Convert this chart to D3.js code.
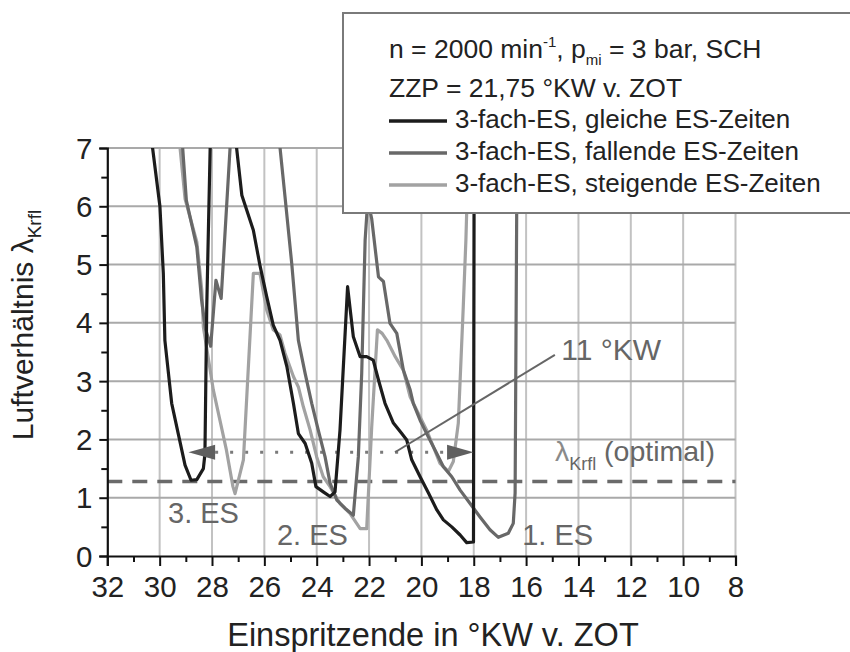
<!DOCTYPE html>
<html>
<head>
<meta charset="UTF-8" />
<title>Luftverhältnis über Einspritzende</title>
<script src="https://d3js.org/d3.v7.min.js"></script>
<style>
  body { margin: 0; background: #fff; }
  svg { font-family: "Liberation Sans", Arial, sans-serif; }
</style>
</head>
<body>
<div id="main"></div>
<script type="text/javascript">

// ---- data ----
const xMajor = [32, 30, 28, 26, 24, 22, 20, 18, 16, 14, 12, 10, 8]
const xMinor = [31, 29, 27, 25, 23, 21, 19, 17, 15, 13, 11, 9]
const yMajor = [0, 1, 2, 3, 4, 5, 6, 7]
const yMinor = [0.5, 1.5, 2.5, 3.5, 4.5, 5.5, 6.5]

// [°KW v. ZOT, lambda]; values > 7 leave the plot at the top
const gleiche = [
  [30.4, 8.0], [30.27, 7.0], [29.99, 6.0], [29.86, 4.85], [29.8, 3.7], [29.54, 2.62],
  [29.29, 2.1], [29.03, 1.56], [28.8, 1.3], [28.58, 1.31], [28.33, 1.5], [28.27, 1.75],
  [28.2, 4.28], [28.07, 7.0], [28.03, 8.5], [27.2, 8.0], [27.06, 7.0], [26.86, 6.19],
  [26.42, 5.59], [26.17, 4.99], [25.91, 4.45], [25.66, 3.96], [25.4, 3.7], [25.14, 3.25],
  [24.89, 2.62], [24.7, 2.1], [24.44, 1.93], [24.19, 1.59], [24.03, 1.19], [23.75, 1.1],
  [23.49, 1.02], [23.3, 1.1], [23.11, 2.16], [22.82, 4.62], [22.6, 3.76], [22.34, 3.42],
  [22.09, 3.42], [21.84, 3.36], [21.64, 3.02], [21.39, 2.62], [21.07, 2.28], [20.75, 2.1],
  [20.56, 1.99], [20.37, 1.65], [20.05, 1.36], [19.73, 1.08], [19.41, 0.79], [19.16, 0.62],
  [18.84, 0.5], [18.52, 0.36], [18.27, 0.23], [18.01, 0.24], [17.98, 8.0]
]
const fallende = [
  [29.25, 8.0], [29.12, 7.0], [28.98, 6.1], [28.58, 5.3], [28.4, 4.4], [28.25, 3.9],
  [28.05, 3.6], [27.85, 4.73], [27.65, 4.42], [27.31, 7.0], [27.2, 8.0], [25.55, 8.0],
  [25.4, 7.0], [25.21, 6.16], [24.95, 5.0], [24.7, 3.7], [24.44, 3.13], [24.19, 2.62],
  [23.94, 2.16], [23.68, 1.7], [23.49, 1.25], [23.23, 0.96], [22.92, 0.82], [22.6, 0.7],
  [22.41, 1.7], [22.28, 3.14], [22.15, 5.42], [22.05, 6.1], [21.9, 5.79], [21.64, 4.79],
  [21.45, 4.71], [21.2, 3.99], [20.94, 3.82], [20.69, 3.19], [20.43, 2.85], [20.31, 2.62],
  [20.05, 2.33], [19.8, 2.1], [19.48, 1.82], [19.16, 1.53], [18.84, 1.36], [18.52, 1.13],
  [18.14, 0.9], [17.76, 0.67], [17.38, 0.45], [17.06, 0.32], [16.68, 0.39], [16.49, 0.56],
  [16.42, 1.08], [16.36, 5.82], [16.33, 8.0]
]
const steigende = [
  [29.35, 8.0], [29.22, 7.0], [29.03, 6.13], [28.58, 5.39], [28.39, 4.56], [28.33, 3.93],
  [27.95, 2.85], [27.45, 1.82], [27.2, 1.19], [27.12, 1.07], [26.8, 1.65], [26.42, 4.85],
  [26.17, 4.85], [25.91, 4.22], [25.66, 3.88], [25.4, 3.79], [25.21, 3.48], [24.89, 3.08],
  [24.7, 2.9], [24.51, 2.56], [24.25, 2.16], [24.0, 1.7], [23.75, 1.36], [23.49, 1.19],
  [23.11, 0.9], [22.73, 0.73], [22.34, 0.47], [22.09, 0.47], [21.9, 2.2], [21.68, 3.88],
  [21.5, 3.82], [21.32, 3.7], [21.0, 3.42], [20.69, 3.19], [20.43, 2.73], [20.12, 2.45],
  [19.8, 2.16], [19.54, 1.87], [19.29, 1.59], [18.97, 1.45], [18.78, 1.62], [18.59, 2.28],
  [18.4, 4.28], [18.3, 5.42], [18.2, 7.0], [18.15, 8.0]
]

const seriesNames = ['3-fach-ES, gleiche ES-Zeiten', '3-fach-ES, fallende ES-Zeiten', '3-fach-ES, steigende ES-Zeiten']
const seriesColors = ['#1c1c1c', '#686868', '#a2a2a2']

const lambdaOpt = 1.28          // dashed line
const arrowLevel = 1.78         // dotted line with arrows
const arrowLeft = [27.88, 28.9] // base, tip
const arrowRight = [19.02, 18.01]

const width = 850
const height = 652
const plot = { left: 107.3, right: 735.5, top: 148, bottom: 556 }

const x = d3.scaleLinear().domain([32, 8]).range([plot.left, plot.right])
const y = d3.scaleLinear().domain([0, 7]).range([plot.bottom, plot.top])

const svg = d3.select('#main').append('svg')
  .attr('width', width)
  .attr('height', height)

svg.append('defs').append('clipPath').attr('id', 'clip')
  .append('rect')
  .attr('x', plot.left).attr('y', plot.top)
  .attr('width', plot.right - plot.left).attr('height', plot.bottom - plot.top)

// grid
svg.append('g').selectAll('line').data(xMajor.slice(1))
  .join('line')
  .attr('x1', d => x(d)).attr('x2', d => x(d))
  .attr('y1', y(0)).attr('y2', y(7))
  .attr('stroke', '#c2c2c2').attr('stroke-width', 2)

svg.append('g').selectAll('line').data(yMajor.slice(1))
  .join('line')
  .attr('x1', x(32)).attr('x2', x(8))
  .attr('y1', d => y(d)).attr('y2', d => y(d))
  .attr('stroke', '#a9a9a9').attr('stroke-width', 2)

// reference lines
svg.append('line')
  .attr('x1', x(32)).attr('x2', x(8))
  .attr('y1', y(lambdaOpt)).attr('y2', y(lambdaOpt))
  .attr('stroke', '#6a6a6a').attr('stroke-width', 3.5)
  .attr('stroke-dasharray', '15 10')

svg.append('line')
  .attr('x1', x(arrowLeft[0])).attr('x2', x(arrowRight[0]))
  .attr('y1', y(arrowLevel)).attr('y2', y(arrowLevel))
  .attr('stroke', '#7a7a7a').attr('stroke-width', 3)
  .attr('stroke-dasharray', '3 12')

// curves
const line = d3.line().x(d => x(d[0])).y(d => y(d[1]))
const curves = svg.append('g').attr('clip-path', 'url(#clip)')
const allSeries = [steigende, fallende, gleiche]
const drawColors = [seriesColors[2], seriesColors[1], seriesColors[0]]
allSeries.forEach((s, i) => {
  curves.append('path')
    .datum(s)
    .attr('d', line)
    .attr('fill', 'none')
    .attr('stroke', drawColors[i])
    .attr('stroke-width', 3.2)
    .attr('stroke-linejoin', 'round')
})

// arrows
function arrow(base, tip) {
  const bx = x(base), tx = x(tip), yy = y(arrowLevel)
  svg.append('path')
    .attr('d', `M${bx},${yy - 7.5}L${tx},${yy}L${bx},${yy + 7.5}Z`)
    .attr('fill', '#5f5f5f')
}
arrow(arrowLeft[0], arrowLeft[1])
arrow(arrowRight[0], arrowRight[1])

// annotation: 11 °KW
svg.append('line')
  .attr('x1', x(21.01)).attr('y1', y(arrowLevel))
  .attr('x2', x(14.9)).attr('y2', y(3.45))
  .attr('stroke', '#666').attr('stroke-width', 2)

const annot = svg.append('g').attr('fill', '#666')
annot.append('text').attr('x', x(14.66)).attr('y', y(3.36))
  .attr('font-size', 30).text('11 °KW')

const opt = annot.append('text').attr('x', x(14.9)).attr('y', y(1.63)).attr('font-size', 28.5)
opt.append('tspan').attr('fill', '#8a8a8a').text('λ')
opt.append('tspan').attr('font-size', 18).attr('dy', 9).text('Krfl')
opt.append('tspan').attr('dy', -9).text(' (optimal)')

annot.selectAll('text.es').data([[29.68, 0.57, '3. ES'], [25.52, 0.19, '2. ES'], [16.15, 0.19, '1. ES']])
  .join('text')
  .attr('class', 'es')
  .attr('x', d => x(d[0])).attr('y', d => y(d[1]))
  .attr('font-size', 29)
  .text(d => d[2])

// axes
const gx = svg.append('g').attr('transform', `translate(0,${y(0)})`)
  .call(d3.axisBottom(x).tickValues(xMajor).tickSize(10).tickPadding(10).tickFormat(d3.format('d')))
gx.append('g')
  .call(d3.axisBottom(x).tickValues(xMinor).tickSize(6).tickFormat(''))
  .call(g => g.select('.domain').remove())

const gy = svg.append('g').attr('transform', `translate(${x(32)},0)`)
  .call(d3.axisLeft(y).tickValues(yMajor).tickSize(8).tickPadding(7).tickFormat(d3.format('d')))
gy.append('g')
  .call(d3.axisLeft(y).tickValues(yMinor).tickSize(6).tickFormat(''))
  .call(g => g.select('.domain').remove())

svg.selectAll('.domain').attr('stroke', '#111').attr('stroke-width', 2.2)
svg.selectAll('.tick line').attr('stroke', '#111').attr('stroke-width', 2)
gx.attr('font-family', null).attr('font-size', 29.5)
gy.attr('font-family', null).attr('font-size', 29.5)
svg.selectAll('.tick text').attr('fill', '#222')
gy.selectAll('.tick text').attr('dy', '0.34em')

// axis titles
svg.append('text')
  .attr('x', 433).attr('y', 646)
  .attr('text-anchor', 'middle')
  .attr('font-size', 32.5).attr('fill', '#222')
  .text('Einspritzende in °KW v. ZOT')

const yt = svg.append('text')
  .attr('transform', 'translate(33,325) rotate(-90)')
  .attr('text-anchor', 'middle')
  .attr('font-size', 30).attr('fill', '#222')
yt.append('tspan').text('Luftverhältnis λ')
yt.append('tspan').attr('font-size', 19).attr('dy', 8).text('Krfl')

// legend
const lg = svg.append('g')
lg.append('rect')
  .attr('x', 343).attr('y', 13).attr('width', 530).attr('height', 200)
  .attr('fill', '#fff').attr('stroke', '#7a7a7a').attr('stroke-width', 2)

const t1 = lg.append('text').attr('x', 389).attr('y', 58).attr('font-size', 26.5).attr('fill', '#222')
t1.append('tspan').text('n = 2000 min')
t1.append('tspan').attr('font-size', 15).attr('dy', -11).text('-1')
t1.append('tspan').attr('dy', 11).text(', p')
t1.append('tspan').attr('font-size', 15).attr('dy', 7).text('mi')
t1.append('tspan').attr('dy', -7).text(' = 3 bar, SCH')

lg.append('text').attr('x', 389).attr('y', 97).attr('font-size', 26.5).attr('fill', '#222')
  .text('ZZP = 21,75 °KW v. ZOT')

const rowY = [128, 160, 192]
seriesNames.forEach((name, i) => {
  lg.append('line')
    .attr('x1', 389).attr('x2', 447)
    .attr('y1', rowY[i] - 7).attr('y2', rowY[i] - 7)
    .attr('stroke', seriesColors[i]).attr('stroke-width', 3.5)
  lg.append('text').attr('x', 455).attr('y', rowY[i])
    .attr('font-size', 26).attr('fill', '#222')
    .text(name)
})

</script>
</body>
</html>
